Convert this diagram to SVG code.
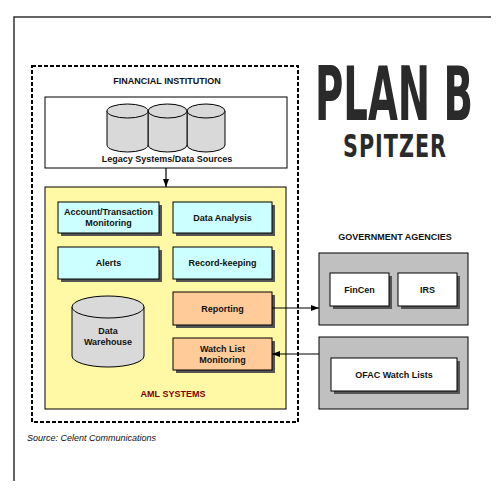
<svg xmlns="http://www.w3.org/2000/svg" width="504" height="504" viewBox="0 0 504 504">
<defs>
<marker id="ah" markerWidth="8" markerHeight="6" refX="8" refY="3" orient="auto" markerUnits="userSpaceOnUse">
<path d="M0,0 L8,3 L0,6 Z" fill="#000"/>
</marker>
</defs>
<style>
.t{font-family:"Liberation Sans",Arial,sans-serif;font-weight:bold;font-size:9px;fill:#111;text-anchor:middle}
.box{stroke:#000;stroke-width:1}
.sh{fill:#555}
.blue{fill:#ccffff}
.orange{fill:#ffcc99}
.white{fill:#fff}
.gray{fill:#c0c0c0;stroke:#000;stroke-width:1}
.cyl{fill:#d9d9d9;stroke:#000;stroke-width:1}
.conn{stroke:#000;stroke-width:1.2;fill:none}
.big{font-family:"Liberation Sans Narrow","DejaVu Sans Condensed",sans-serif;font-weight:bold;fill:#2a2a2a;text-anchor:middle}
</style>
<rect width="504" height="504" fill="#fff"/>
<path d="M14,481 V17 H491" fill="none" stroke="#333" stroke-width="1.5"/>

<g id="plan-b">
<text class="big" transform="translate(394,120) scale(1,1.45)" x="0" y="0" font-size="52" textLength="158" lengthAdjust="spacingAndGlyphs">PLAN B</text>
<text class="big" transform="translate(394.5,157) scale(1,1.4)" x="0" y="0" font-size="23" textLength="103" lengthAdjust="spacing">SPITZER</text>
</g>

<g id="financial-institution">
<rect x="32" y="66" width="266" height="356" fill="none" stroke="#000" stroke-width="2" stroke-dasharray="4,2"/>
<text class="t" x="167" y="84" font-size="8.5">FINANCIAL INSTITUTION</text>
</g>

<g id="legacy">
<rect x="45" y="97" width="242" height="71" fill="#fff" stroke="#000" stroke-width="1"/>
<path class="cyl" d="M187,111 V145 A19,7 0 0 0 225,145 V111"/>
<ellipse class="cyl" cx="206" cy="111" rx="19" ry="7"/>
<path class="cyl" d="M148,111 V145 A19.5,7 0 0 0 187,145 V111"/>
<ellipse class="cyl" cx="167.5" cy="111" rx="19.5" ry="7"/>
<path class="cyl" d="M107,111 V145 A20.5,7 0 0 0 148,145 V111"/>
<ellipse class="cyl" cx="127.5" cy="111" rx="20.5" ry="7"/>
<text class="t" x="167" y="162">Legacy Systems/Data Sources</text>
</g>

<g id="aml">
<rect x="45" y="187" width="241" height="222" fill="#fff9a6" stroke="#000" stroke-width="1"/>
<text class="t" x="173" y="397" style="fill:#800000">AML SYSTEMS</text>
</g>

<g id="account">
<rect class="sh" x="61" y="205" width="101" height="31"/>
<rect class="box blue" x="58" y="202" width="101" height="31"/>
<text class="t" x="108.5" y="215">Account/Transaction</text>
<text class="t" x="108.5" y="226">Monitoring</text>
</g>
<g id="data-analysis">
<rect class="sh" x="176" y="205" width="99" height="31"/>
<rect class="box blue" x="173" y="202" width="99" height="31"/>
<text class="t" x="222.5" y="221">Data Analysis</text>
</g>
<g id="alerts">
<rect class="sh" x="61" y="250" width="101" height="32"/>
<rect class="box blue" x="58" y="247" width="101" height="32"/>
<text class="t" x="108.5" y="266">Alerts</text>
</g>
<g id="record-keeping">
<rect class="sh" x="176" y="250" width="99" height="32"/>
<rect class="box blue" x="173" y="247" width="99" height="32"/>
<text class="t" x="222.5" y="266">Record-keeping</text>
</g>
<g id="reporting">
<rect class="sh" x="176" y="295" width="99" height="33"/>
<rect class="box orange" x="173" y="292" width="99" height="33"/>
<text class="t" x="222.5" y="312">Reporting</text>
</g>
<g id="watch-list">
<rect class="sh" x="176" y="341" width="99" height="32"/>
<rect class="box orange" x="173" y="338" width="99" height="32"/>
<text class="t" x="222.5" y="352">Watch List</text>
<text class="t" x="222.5" y="363">Monitoring</text>
</g>
<g id="data-warehouse">
<path class="cyl" d="M72,307 V356 A36,11 0 0 0 144,356 V307"/>
<ellipse class="cyl" cx="108" cy="307" rx="36" ry="11"/>
<text class="t" x="108" y="334">Data</text>
<text class="t" x="108" y="345">Warehouse</text>
</g>

<g id="government">
<text class="t" x="395" y="240" font-size="8.5">GOVERNMENT AGENCIES</text>
<rect class="gray" x="319" y="253" width="149" height="72"/>
</g>
<g id="fincen">
<rect class="sh" x="333" y="276" width="59" height="33"/>
<rect class="box white" x="330" y="273" width="59" height="33"/>
<text class="t" x="359.5" y="293">FinCen</text>
</g>
<g id="irs">
<rect class="sh" x="401" y="276" width="59" height="33"/>
<rect class="box white" x="398" y="273" width="59" height="33"/>
<text class="t" x="427.5" y="293">IRS</text>
</g>
<g id="ofac-group">
<rect class="gray" x="319" y="337" width="149" height="72"/>
</g>
<g id="ofac">
<rect class="sh" x="334" y="361" width="126" height="33"/>
<rect class="box white" x="331" y="358" width="126" height="33"/>
<text class="t" x="394" y="378">OFAC Watch Lists</text>
</g>

<g id="connectors">
<line class="conn" x1="166" y1="168" x2="166" y2="187" marker-end="url(#ah)"/>
<line class="conn" x1="272" y1="308" x2="319" y2="308" marker-end="url(#ah)"/>
<line class="conn" x1="319" y1="354" x2="272" y2="354" marker-end="url(#ah)"/>
</g>

<text x="27" y="441" font-family="'Liberation Sans',Arial,sans-serif" font-style="italic" font-size="9" fill="#111">Source: Celent Communications</text>
</svg>
